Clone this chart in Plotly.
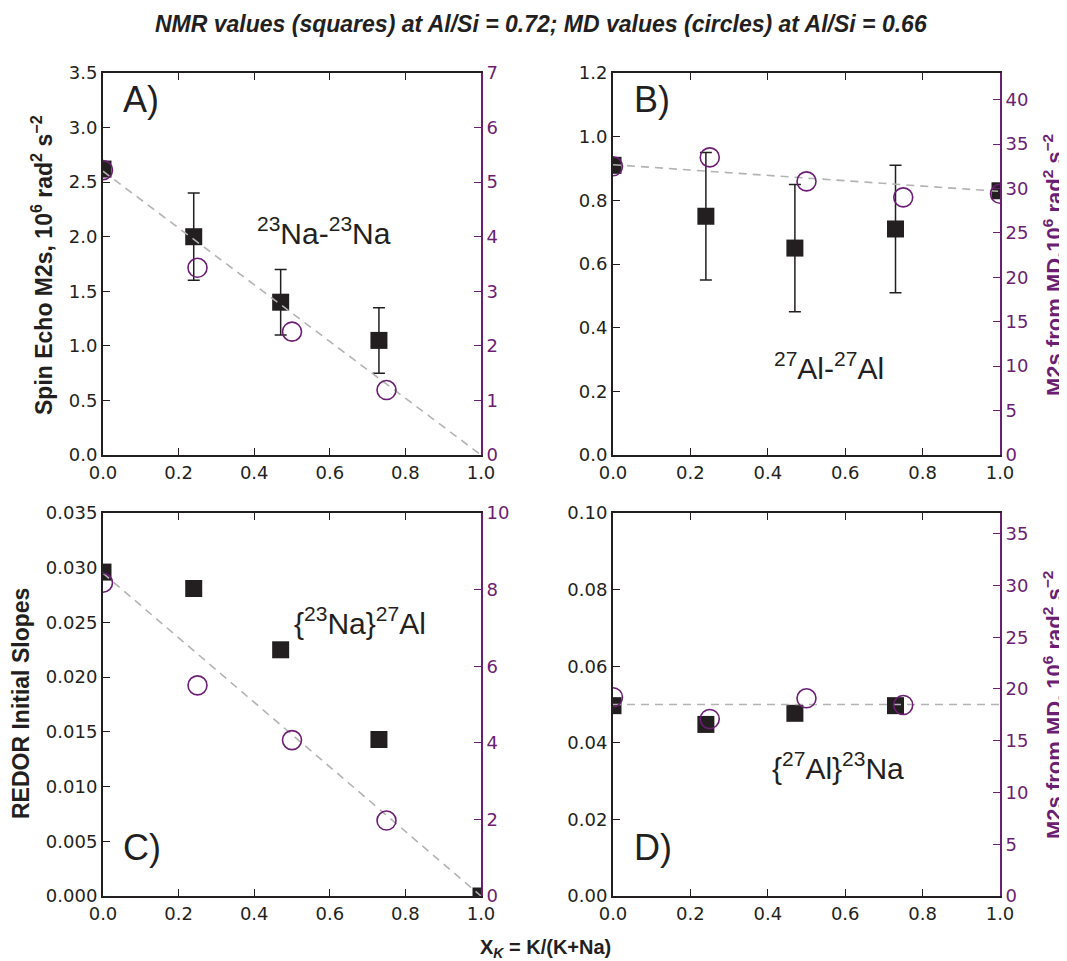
import plotly.graph_objects as go

W, H = 1067, 961
OFF = 8  # page body margin
FW, FH = W - OFF, H - OFF
PURPLE = "#6b1e74"
DARK = "#231f20"
GRAY = "#b3b3b3"

# ---------------- data ----------------
# Panel A: 23Na-23Na spin echo M2
a_nmr_x = [0.0, 0.24, 0.47, 0.73]
a_nmr_y = [2.62, 2.0, 1.4, 1.05]
a_nmr_err = [0.0, 0.4, 0.3, 0.3]
a_md_x = [0.0, 0.25, 0.5, 0.75]
a_md_y = [5.22, 3.43, 2.26, 1.19]
a_fit_x = [0.0, 1.0]
a_fit_y = [2.6, 0.0]

# Panel B: 27Al-27Al spin echo M2
b_nmr_x = [0.0, 0.24, 0.47, 0.73, 1.0]
b_nmr_y = [0.91, 0.75, 0.65, 0.71, 0.83]
b_nmr_err = [0.0, 0.2, 0.2, 0.2, 0.0]
b_md_x = [0.0, 0.25, 0.5, 0.75, 1.0]
b_md_y = [32.5, 33.5, 30.8, 29.0, 29.4]
b_fit_x = [0.0, 1.0]
b_fit_y = [0.912, 0.828]

# Panel C: {23Na}27Al REDOR
c_nmr_x = [0.0, 0.24, 0.47, 0.73, 1.0]
c_nmr_y = [0.0296, 0.0281, 0.0225, 0.0143, 0.0]
c_md_x = [0.0, 0.25, 0.5, 0.75]
c_md_y = [8.18, 5.50, 4.07, 1.97]
c_fit_x = [0.0, 1.0]
c_fit_y = [0.0295, 0.0]

# Panel D: {27Al}23Na REDOR
d_nmr_x = [0.0, 0.24, 0.47, 0.73]
d_nmr_y = [0.0497, 0.0448, 0.0477, 0.0497]
d_md_x = [0.0, 0.25, 0.5, 0.75]
d_md_y = [19.2, 17.1, 19.1, 18.45]
d_fit_x = [0.0, 1.0]
d_fit_y = [0.05, 0.05]

x_ticks = [0.0, 0.2, 0.4, 0.6, 0.8, 1.0]
x_ticklabels = ["0.0", "0.2", "0.4", "0.6", "0.8", "1.0"]

# ---------------- helpers ----------------
def px(x):
    return (x - OFF) / FW


def py(y):
    return 1 - (y - OFF) / FH


TICKFONT = dict(family="DejaVu Sans", size=18, color=DARK)
TICKFONT_P = dict(family="DejaVu Sans", size=18, color=PURPLE)

fig = go.Figure()

panels = [
    ("x", "y", "y2", a_nmr_x, a_nmr_y, a_nmr_err, a_md_x, a_md_y, a_fit_x, a_fit_y),
    ("x2", "y3", "y4", b_nmr_x, b_nmr_y, b_nmr_err, b_md_x, b_md_y, b_fit_x, b_fit_y),
    ("x3", "y5", "y6", c_nmr_x, c_nmr_y, None, c_md_x, c_md_y, c_fit_x, c_fit_y),
    ("x4", "y7", "y8", d_nmr_x, d_nmr_y, None, d_md_x, d_md_y, d_fit_x, d_fit_y),
]

for xa, ya, yb, nx, ny, nerr, mx, my, fx, fy in panels:
    err = None
    if nerr is not None:
        err = dict(type="data", array=nerr, visible=True, color=DARK,
                   thickness=1.5, width=6)
    fig.add_trace(go.Scatter(
        x=nx, y=ny, mode="markers", xaxis=xa, yaxis=ya,
        marker=dict(symbol="square", size=17, color=DARK,
                    line=dict(width=0)),
        error_y=err, showlegend=False, cliponaxis=True))
    fig.add_trace(go.Scatter(
        x=fx, y=fy, mode="lines", xaxis=xa, yaxis=ya,
        line=dict(color=GRAY, width=1.6, dash="8px,6px"),
        showlegend=False))
    fig.add_trace(go.Scatter(
        x=mx, y=my, mode="markers", xaxis=xa, yaxis=yb,
        marker=dict(symbol="circle-open", size=19, color=PURPLE,
                    line=dict(width=1.6, color=PURPLE)),
        showlegend=False, cliponaxis=True))

# domains (pixel based)
xdom_left = [px(103), px(481)]
xdom_right = [px(613), px(1000)]
ydom_top = [py(455), py(73)]
ydom_bot = [py(896), py(513)]


def xaxis(domain, anchor):
    return dict(domain=domain, anchor=anchor, range=[0, 1],
                tickvals=x_ticks, ticktext=x_ticklabels,
                ticks="inside", ticklen=7, tickwidth=1, tickcolor=DARK,
                showline=True, linecolor=DARK, linewidth=2, mirror="ticks",
                showgrid=False, zeroline=False, tickfont=TICKFONT,
                automargin=False, fixedrange=True)


def yleft(domain, anchor, rng, dtick, fmt):
    return dict(domain=domain, anchor=anchor, range=rng, dtick=dtick,
                tick0=0, tickformat=fmt,
                ticks="inside", ticklen=7, tickwidth=1, tickcolor=DARK,
                showline=True, linecolor=DARK, linewidth=2,
                showgrid=False, zeroline=False, tickfont=TICKFONT,
                automargin=False, fixedrange=True)


def yright(overlay, anchor, rng, dtick):
    return dict(overlaying=overlay, anchor=anchor, side="right", range=rng,
                dtick=dtick, tick0=0,
                ticks="inside", ticklen=7, tickwidth=1, tickcolor=PURPLE,
                showline=True, linecolor=PURPLE, linewidth=2,
                showgrid=False, zeroline=False, tickfont=TICKFONT_P,
                automargin=False, fixedrange=True)


fig.update_layout(
    template="none",
    width=FW, height=FH,
    margin=dict(l=0, r=0, t=0, b=0, pad=0, autoexpand=False),
    font=dict(family="DejaVu Sans", color=DARK),
    paper_bgcolor="white", plot_bgcolor="white",
    xaxis=xaxis(xdom_left, "y"),
    xaxis2=xaxis(xdom_right, "y3"),
    xaxis3=xaxis(xdom_left, "y5"),
    xaxis4=xaxis(xdom_right, "y7"),
    yaxis=yleft(ydom_top, "x", [0, 3.5], 0.5, ".1f"),
    yaxis2=yright("y", "x", [0, 7], 1),
    yaxis3=yleft(ydom_top, "x2", [0, 1.2], 0.2, ".1f"),
    yaxis4=yright("y3", "x2", [0, 43], 5),
    yaxis5=yleft(ydom_bot, "x3", [0, 0.035], 0.005, ".3f"),
    yaxis6=yright("y5", "x3", [0, 10], 2),
    yaxis7=yleft(ydom_bot, "x4", [0, 0.10], 0.02, ".2f"),
    yaxis8=yright("y7", "x4", [0, 37], 5),
)

ann = []


def add_text(text, x, y, size, color=DARK, bold=False, italic=False,
             angle=0, family="Liberation Sans", xanchor="center"):
    t = text
    if bold:
        t = "<b>" + t + "</b>"
    if italic:
        t = "<i>" + t + "</i>"
    ann.append(dict(text=t, x=px(x), y=py(y), xref="paper", yref="paper",
                    showarrow=False, textangle=angle, xanchor=xanchor,
                    yanchor="middle",
                    font=dict(family=family, size=size, color=color)))


# title
add_text("NMR values (squares) at Al/Si = 0.72; MD values (circles) at Al/Si = 0.66",
         541, 24, 23, bold=True, italic=True)
# x axis title
add_text("X<sub><i>K</i></sub> = K/(K+Na)", 545, 948, 20, bold=True)
# left titles
add_text("Spin Echo M2s, 10<sup>6</sup> rad<sup>2</sup> s<sup>−2</sup>",
         42, 265, 23, bold=True, angle=-90)
add_text("REDOR Initial Slopes", 21, 704, 23, bold=True, angle=-90)
# right titles
add_text("M2s from MD,10<sup>6</sup> rad<sup>2</sup> s<sup>−2</sup>",
         1053, 265, 22, color=PURPLE, bold=True, angle=-90)
add_text("M2s from MD, 10<sup>6</sup> rad<sup>2</sup> s<sup>−2</sup>",
         1053, 705, 22, color=PURPLE, bold=True, angle=-90)
# panel letters
add_text("A)", 121, 99, 36, xanchor="left")
add_text("B)", 632, 99, 36, xanchor="left")
add_text("C)", 121, 847, 36, xanchor="left")
add_text("D)", 632, 847, 36, xanchor="left")
# panel labels
add_text("<sup>23</sup>Na-<sup>23</sup>Na", 324, 231, 30)
add_text("<sup>27</sup>Al-<sup>27</sup>Al", 829, 366, 30)
add_text("{<sup>23</sup>Na}<sup>27</sup>Al", 360, 621, 30)
add_text("{<sup>27</sup>Al}<sup>23</sup>Na", 838, 766, 30)

fig.update_layout(annotations=ann)

fig.write_html("out.html")
